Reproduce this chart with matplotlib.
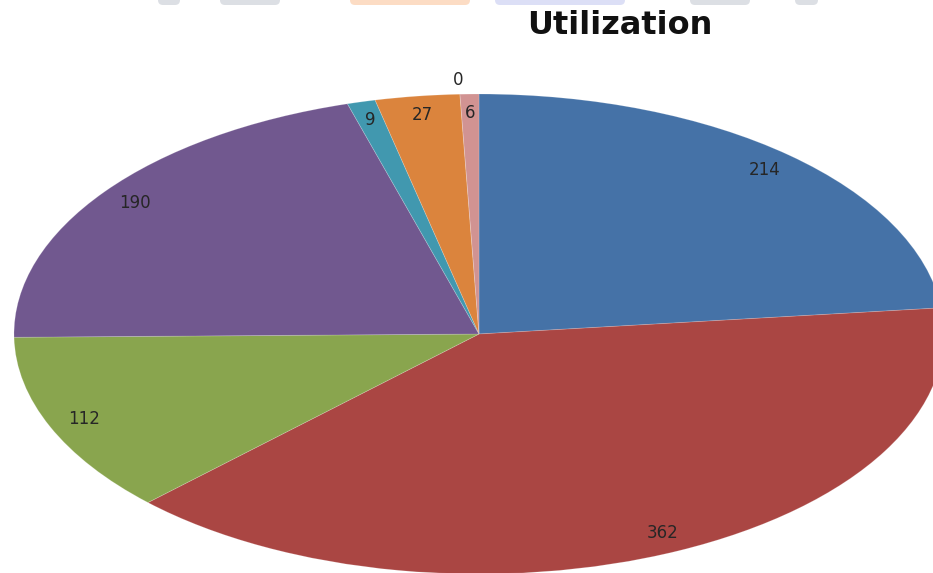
import numpy as np
import matplotlib
matplotlib.use("Agg")
import matplotlib.pyplot as plt
from matplotlib.patches import FancyBboxPatch

# Slice values, clockwise from 12 o'clock
values = [214, 362, 112, 190, 9, 27, 0, 6]
labels = [str(v) for v in values]
colors = ["#4572A7", "#AA4643", "#89A54E", "#71588F",
          "#4198AF", "#DB843D", "#93A9CF", "#D19392"]
title = "Utilization"

W, H = 933, 573
fig = plt.figure(figsize=(W / 100, H / 100), dpi=100)
fig.patch.set_facecolor("white")

# faint decorative banner strip along the top edge (pixel coordinates)
bg = fig.add_axes([0, 0, 1, 1], zorder=0)
bg.set_xlim(0, W)
bg.set_ylim(H, 0)
bg.axis("off")
banner = [(158, 22, "#dcdfe4"), (220, 60, "#dcdfe4"), (350, 120, "#fcdcc4"),
          (495, 130, "#dcdff6"), (690, 60, "#dcdfe4"), (795, 23, "#dcdfe4")]
for x0, w, c in banner:
    bg.add_patch(FancyBboxPatch((x0, -10), w, 15,
                                boxstyle="round,pad=0,rounding_size=5",
                                facecolor=c, edgecolor="none"))

# pie drawn in unit-circle coordinates, stretched into an ellipse
cx_px, cy_px, ax_px, ay_px = 479, 334, 465, 240
ax = fig.add_axes([0, 0, 1, 1], zorder=1)
ax.patch.set_alpha(0)
wedges, texts = ax.pie(values, labels=labels, colors=colors, startangle=90,
                       counterclock=False, radius=1, labeldistance=0.92,
                       wedgeprops=dict(edgecolor=(1, 1, 1, 0.2), linewidth=0.6),
                       textprops=dict(fontsize=12, color="#262626",
                                      ha="center", va="center"))
# a zero-sized slice gets its label just outside the rim
for w, t, v in zip(wedges, texts, values):
    if v == 0:
        th = np.deg2rad((w.theta1 + w.theta2) / 2)
        t.set_position((1.08 * np.cos(th), 1.06 * np.sin(th)))
ax.set_aspect("auto")
ax.set_xlim(-cx_px / ax_px, (W - cx_px) / ax_px)
ax.set_ylim(-(H - cy_px) / ay_px, cy_px / ay_px)
ax.axis("off")

fig.text(620 / W, 1 - 25 / H, title, fontsize=23, fontweight="bold",
         color="#111111", ha="center", va="center")

fig.savefig("out.png", dpi=100, facecolor="white")
